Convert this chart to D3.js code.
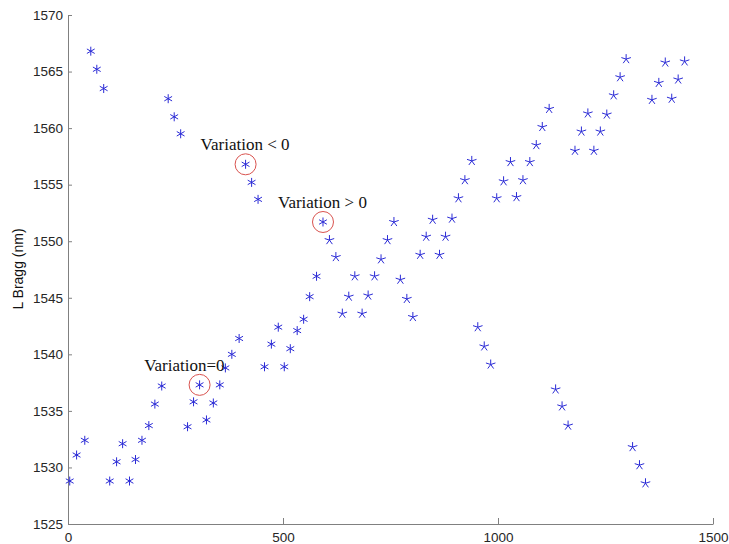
<!DOCTYPE html>
<html>
<head>
<meta charset="utf-8">
<script src="https://cdn.jsdelivr.net/npm/d3@7"></script>
<style>
  body { margin: 0; background: #fff; }
  .axis path, .axis line { stroke: #808080; }
  .axis text { font-family: "Liberation Sans", Arial, sans-serif; font-size: 13.5px; fill: #262626; }
  .note { font-family: "Liberation Serif", "Times New Roman", serif; font-size: 17px; fill: #111; }
</style>
</head>
<body>
<svg id="chart"></svg>
<script>
"use strict";
// wavelength readings, first run (asterisk markers)
const xA = [4, 20, 39, 53, 67, 83, 97, 113, 127, 143, 157, 172, 188, 202, 218,
    233, 247, 262, 278, 292, 306, 322, 338, 353, 366, 381, 398, 413, 427, 442,
    457, 473, 489, 503, 517, 533, 548, 562, 578, 593];
const yA = [1528.8, 1531.1, 1532.4, 1566.8, 1565.2, 1563.5, 1528.8, 1530.5, 1532.1,
    1528.8, 1530.7, 1532.4, 1533.7, 1535.6, 1537.2, 1562.6, 1561.0, 1559.5,
    1533.6, 1535.8, 1537.3, 1534.2, 1535.7, 1537.3, 1538.8, 1540.0, 1541.4,
    1556.8, 1555.2, 1553.7, 1538.9, 1540.9, 1542.4, 1538.9, 1540.5, 1542.1,
    1543.1, 1545.1, 1546.9, 1551.7];
// second run (star markers)
const xB = [608, 623, 638, 653, 667, 684, 698, 713, 728, 743, 758, 773, 788, 802,
    819, 833, 848, 864, 878, 893, 908, 923, 939, 953, 968, 983, 997, 1013, 1029,
    1043, 1058, 1074, 1089, 1103, 1119, 1134, 1149, 1163, 1179, 1194, 1209, 1223,
    1238, 1253, 1269, 1284, 1298, 1313, 1329, 1343, 1358, 1374, 1389, 1404, 1419, 1434];
const yB = [1550.1, 1548.6, 1543.6, 1545.1, 1546.9, 1543.6, 1545.2, 1546.9, 1548.4,
    1550.1, 1551.7, 1546.6, 1544.9, 1543.3, 1548.8, 1550.4, 1551.9, 1548.8,
    1550.4, 1552.0, 1553.8, 1555.4, 1557.1, 1542.4, 1540.7, 1539.1, 1553.8,
    1555.3, 1557.0, 1553.9, 1555.4, 1557.0, 1558.5, 1560.1, 1561.7, 1536.9,
    1535.4, 1533.7, 1558.0, 1559.7, 1561.3, 1558.0, 1559.7, 1561.2, 1562.9,
    1564.5, 1566.1, 1531.8, 1530.2, 1528.6, 1562.5, 1564.0, 1565.8, 1562.6,
    1564.3, 1565.9];
// circled points and their notes
const noteText = ["Variation=0", "Variation < 0", "Variation > 0"];
const noteX = [306, 413, 593];
const noteY = [1537.3, 1556.8, 1551.7];

const xTicks = [0, 500, 1000, 1500];
const yTicks = [1525, 1530, 1535, 1540, 1545, 1550, 1555, 1560, 1565, 1570];

const margin = {top: 15, right: 16, bottom: 20, left: 68},
    width  = 729 - margin.left - margin.right,
    height = 544 - margin.top - margin.bottom;

const svg = d3.select("#chart")
        .attr("width", 729)
        .attr("height", 544)
    .append("g")
        .attr("transform", "translate(" + margin.left + "," + margin.top + ")");

const xScale = d3.scaleLinear().domain([0, 1500]).range([0, width]);
const yScale = d3.scaleLinear().domain([1525, 1570]).range([height, 0]);

// axes, ticks pointing inward like matlab
svg.append("g").classed("axis", true)
    .attr("transform", `translate(0, ${height})`)
    .call(d3.axisBottom(xScale).tickValues(xTicks).tickFormat(d3.format("d"))
        .tickSizeInner(-6).tickSizeOuter(0).tickPadding(8));
svg.append("g").classed("axis", true)
    .call(d3.axisLeft(yScale).tickValues(yTicks).tickFormat(d3.format("d"))
        .tickSizeInner(-4).tickSizeOuter(0).tickPadding(5));

// marker shapes
const asterisk = "M0,-4.5L0,4.5M-3.9,-2.25L3.9,2.25M-3.9,2.25L3.9,-2.25";
const starArms = d3.range(5).map(i => {
    const a = -Math.PI / 2 + i * 2 * Math.PI / 5;
    return "M0,0L" + (5 * Math.cos(a)).toFixed(2) + "," + (5 * Math.sin(a)).toFixed(2);
}).join("");

const blue = "#2b2bd6";
svg.selectAll(".ptA")
    .data(d3.zip(xA, yA))
  .enter().append("path")
    .attr("class", "ptA")
    .attr("d", asterisk)
    .attr("transform", d => "translate(" + xScale(d[0]) + "," + yScale(d[1]) + ")")
    .attr("fill", "none")
    .attr("stroke", blue)
    .attr("stroke-width", 1);
svg.selectAll(".ptB")
    .data(d3.zip(xB, yB))
  .enter().append("path")
    .attr("class", "ptB")
    .attr("d", starArms)
    .attr("transform", d => "translate(" + xScale(d[0]) + "," + yScale(d[1]) + ")")
    .attr("fill", "none")
    .attr("stroke", blue)
    .attr("stroke-width", 1);

// red circles round the marked points
svg.selectAll(".ring")
    .data(noteX)
  .enter().append("circle")
    .attr("class", "ring")
    .attr("cx", (d, i) => xScale(d))
    .attr("cy", (d, i) => yScale(noteY[i]))
    .attr("r", 10.5)
    .attr("fill", "none")
    .attr("stroke", "#d9534f")
    .attr("stroke-width", 1);

// notes: first one ends above the circle, the others start left of it
svg.selectAll(".note")
    .data(noteText)
  .enter().append("text")
    .attr("class", "note")
    .attr("x", (d, i) => xScale(noteX[i]) + (i === 0 ? 25 : -45))
    .attr("y", (d, i) => yScale(noteY[i]) + (i === 0 ? -14 : -14))
    .attr("text-anchor", (d, i) => i === 0 ? "end" : "start")
    .text(d => d);

// y label
svg.append("text")
    .attr("transform", "rotate(-90)")
    .attr("x", -(269 - margin.top))
    .attr("y", 23 - margin.left)
    .attr("text-anchor", "middle")
    .style("font-family", "'Liberation Sans', Arial, sans-serif")
    .style("font-size", "14px")
    .style("fill", "#111")
    .text("L Bragg (nm)");
</script>
</body>
</html>
